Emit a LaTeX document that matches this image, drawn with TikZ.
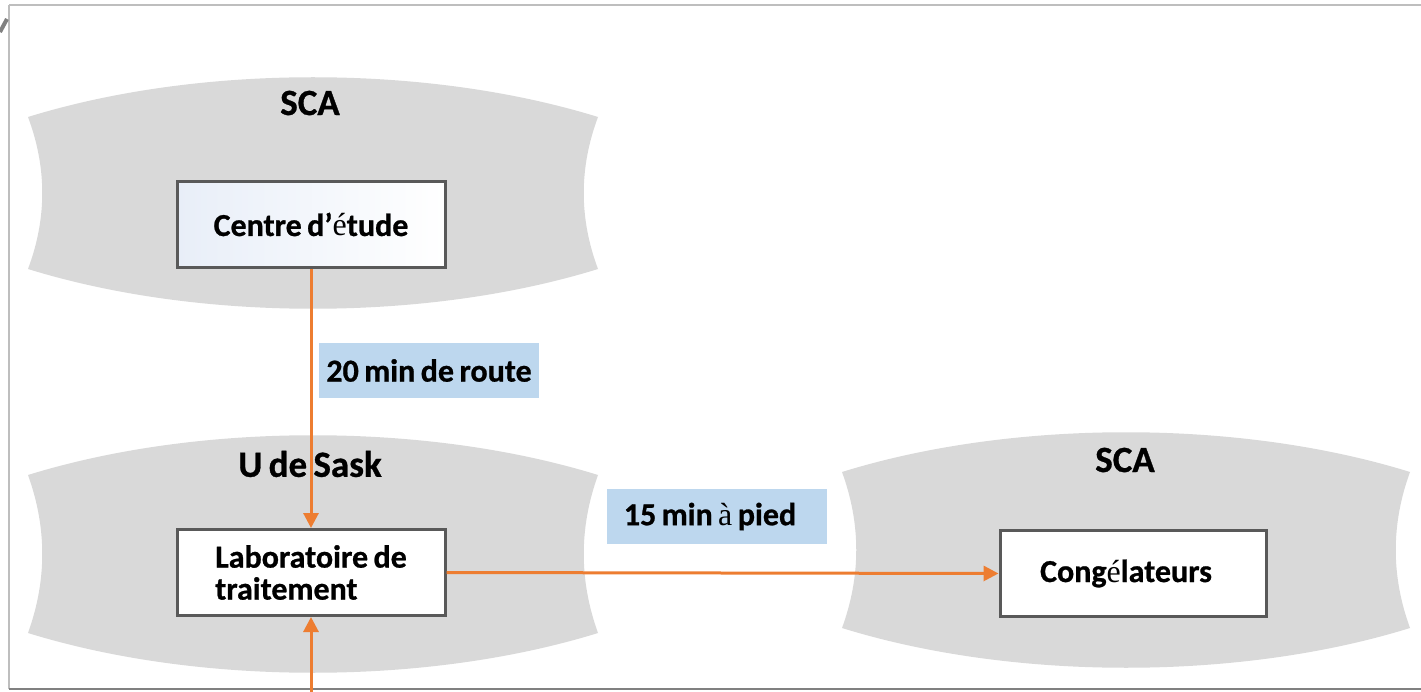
\documentclass[tikz,border=0pt]{standalone}
\usepackage{fontspec}
\setmainfont{Carlito}[WordSpace=0.75, BoldFeatures={FakeBold=0.8}]
\newfontfamily\accfont{Liberation Serif}
\usepackage{tikz}
\usetikzlibrary{arrows.meta, positioning}
\usepackage{xcolor}

\definecolor{zonegray}{RGB}{217,217,217}
\definecolor{boxline}{RGB}{89,89,89}
\definecolor{flowcol}{RGB}{237,125,49}
\definecolor{notecol}{RGB}{189,215,238}
\definecolor{framecol}{RGB}{190,190,190}
\definecolor{tintcol}{RGB}{232,238,248}

\newcommand{\acc}[1]{{\accfont\mdseries #1}}
% gray zone: left, top, right, bottom
\newcommand{\zone}[4]{%
  \fill[zonegray] ({#1},{#2+40})
    .. controls ({#1+0.3*(#3-#1)},{#2-13}) and ({#3-0.3*(#3-#1)},{#2-13}) .. ({#3},{#2+40})
    .. controls ({#3-19},{#2+40+(#4-#2-80)/3}) and ({#3-19},{#4-40-(#4-#2-80)/3}) .. ({#3},{#4-40})
    .. controls ({#3-0.3*(#3-#1)},{#4+13}) and ({#1+0.3*(#3-#1)},{#4+13}) .. ({#1},{#4-40})
    .. controls ({#1+19},{#4-40-(#4-#2-80)/3}) and ({#1+19},{#2+40+(#4-#2-80)/3}) .. cycle;}

\begin{document}
\begin{tikzpicture}[x=1pt, y=-1pt,
  site/.style={rectangle, draw=boxline, line width=3pt, fill=white,
    minimum width=268pt, minimum height=86pt,
    font=\bfseries\fontsize{32}{32}\selectfont},
  head/.style={font=\bfseries\fontsize{37}{40}\selectfont},
  note/.style={fill=notecol, minimum height=55pt, minimum width=220pt,
    font=\bfseries\fontsize{32}{32}\selectfont},
  flow/.style={draw=flowcol, line width=3pt, -{Triangle[length=15pt,width=15pt]}}]
\useasboundingbox (0,0) rectangle (1421,692);

% frame
\draw[framecol, line width=2pt] (9,5) -- (1421,5);
\draw[framecol, line width=2pt] (9,5) -- (9,689);
\draw[gray, line width=2.5pt] (9,689) -- (1421,689);
\draw[gray, line width=4pt] (0,32) -- (7,19);

% zones
\zone{28}{77}{598}{309}
\zone{28}{435}{598}{673}
\zone{842}{432}{1410}{668}

\node[head] (scaA) at (310,103) {SCA};
\node[head] (usask) at (310,464) {U de Sask};
\node[head] (scaB) at (1125,460) {SCA};

\node[site, left color=tintcol, right color=white] (centre) at (311,224.5) {Centre d’\acc{é}tude};
\node[site, align=left] (labo) at (311,572.5) {Laboratoire de\\traitement};
\node[site, minimum width=266pt] (congel) at (1133,573.5) {Cong\acc{é}lateurs\hspace*{14pt}};

\node[note] (route) at (429,370.5) {20 min de route};
\node[note] (pied) at (717,516.5) {15 min \acc{à} pied\hspace*{14pt}};

\coordinate (entree) at (311,692);

\draw[flow] (centre.south) -- (labo.north);
\draw[flow] (labo.east) -- (congel.west);
\draw[flow] (entree) -- (labo.south);

\end{tikzpicture}
\end{document}
